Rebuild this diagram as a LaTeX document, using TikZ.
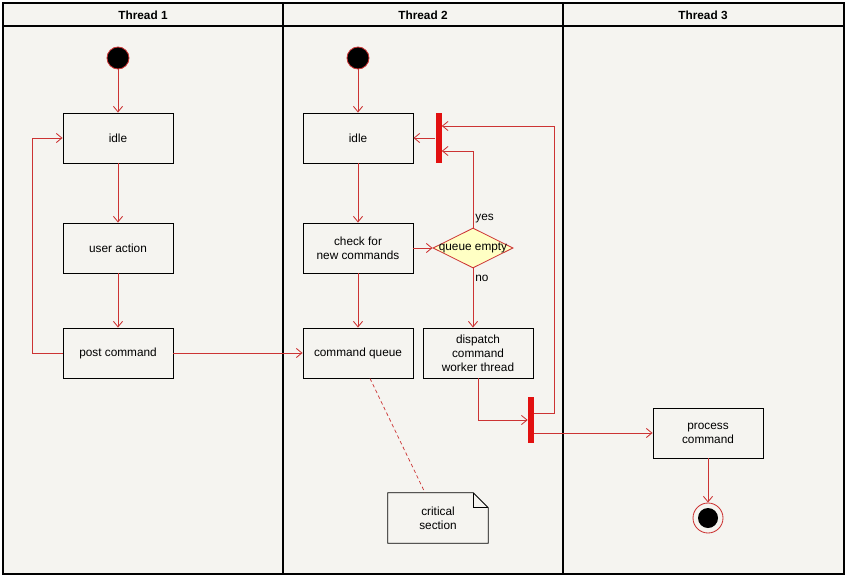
\documentclass[tikz,border=0pt]{standalone}
\usepackage{fontspec}
\setmainfont{Liberation Sans}
\usetikzlibrary{arrows.meta,calc,shapes.geometric}
\definecolor{lanebg}{RGB}{245,244,240}
\definecolor{flowred}{RGB}{204,51,51}
\definecolor{barred}{RGB}{226,16,16}
\definecolor{decyellow}{RGB}{255,255,196}

\begin{document}
\begin{tikzpicture}[x=0.025cm, y=-0.025cm,
  box/.style={draw, rectangle, fill=lanebg, minimum width=2.75cm, minimum height=1.25cm, align=center, font=\fontsize{8.4}{10}\selectfont, line width=0.6pt},
  startdot/.style={draw=flowred, fill=black, circle, minimum size=0.55cm, inner sep=0pt, line width=0.6pt},
  enddot/.style={draw=flowred, circle, minimum size=0.75cm, inner sep=0pt, line width=0.6pt, path picture={\fill[black] (path picture bounding box.center) circle (0.25cm);}},
  dec/.style={draw=flowred, fill=decyellow, diamond, minimum width=2cm, minimum height=1cm, inner sep=0pt, line width=0.6pt},
  syncbar/.style={fill=barred, rectangle, minimum width=0.15cm, inner sep=0pt},
  lbl/.style={font=\fontsize{8.4}{10}\selectfont, inner sep=1.5pt},
  title/.style={font=\bfseries\fontsize{8.4}{10}\selectfont},
  flow/.style={draw=flowred, line width=0.6pt},
  arr/.style={flow, -{Straight Barb[length=4pt, width=6.5pt]}}
]
\useasboundingbox (0,0) rectangle (847,577);
\fill[white] (0,0) rectangle (847,577);
\fill[lanebg] (3,3) rectangle (844,574);
\draw[line width=0.9pt] (3,3) rectangle (844,574);
\draw[line width=0.9pt] (3,26) -- (844,26);
\draw[line width=0.9pt] (283,3) -- (283,574);
\draw[line width=0.9pt] (563,3) -- (563,574);

\node[title] (lane1) at (143,15) {Thread 1};
\node[title] (lane2) at (423,15) {Thread 2};
\node[title] (lane3) at (703,15) {Thread 3};

\node[startdot] (start1) at (118,58) {};
\node[box] (idle1) at (118,138) {idle};
\node[box] (action1) at (118,248) {user action};
\node[box] (post1) at (118,353) {post command};

\node[startdot] (start2) at (358,58) {};
\node[box] (idle2) at (358,138) {idle};
\node[box] (check2) at (358,248) {check for\\new commands};
\node[box] (queue2) at (358,353) {command queue};
\node[dec, label={[lbl]center:queue empty}] (empty2) at (473,248) {};
\node[lbl, anchor=south west] (yes2) at ($(empty2.north)+(0,-2)$) {yes};
\node[lbl, anchor=north west] (no2) at ($(empty2.south)+(0,4)$) {no};
\node[box] (dispatch2) at (478,353) {dispatch\\command\\worker thread};
\node[syncbar, minimum height=1.25cm] (bar1) at (438.5,138) {};
\node[syncbar, minimum height=1.125cm] (bar2) at (531,420) {};
\node[rectangle, minimum width=2.5cm, minimum height=1.25cm, align=center, font=\fontsize{8.4}{10}\selectfont] (note2) at (438,518) {critical\\section};

\node[box] (process3) at (708,433) {process\\command};
\node[enddot] (end3) at (708,518) {};

\draw[line width=0.6pt] (note2.north west) -- ($(note2.north east)+(-15,0)$) -- ($(note2.north east)+(0,15)$) -- (note2.south east) -- (note2.south west) -- cycle;
\draw[line width=0.6pt] ($(note2.north east)+(-15,0)$) |- ($(note2.north east)+(0,15)$);

\draw[arr] (start1) -- (idle1);
\draw[arr] (idle1) -- (action1);
\draw[arr] (action1) -- (post1);
\draw[arr] (post1.west) -- ++(-30,0) |- (idle1.west);
\draw[arr] (post1) -- (queue2);

\draw[arr] (start2) -- (idle2);
\draw[arr] (idle2) -- (check2);
\draw[arr] (check2) -- (queue2);
\draw[arr] (check2) -- (empty2);
\draw[arr] (empty2.south) -- (empty2.south |- dispatch2.north);
\draw[arr] (empty2.north) |- ($(bar1.east)+(0,13)$);
\draw[arr] (bar1) -- (idle2);
\draw[arr] (dispatch2.south) |- (bar2.west);
\draw[arr] ($(bar2.east)+(0,-7)$) -- ++(20,0) |- ($(bar1.east)+(0,-12)$);
\draw[arr] ($(bar2.east)+(0,13)$) -- (process3.west);
\draw[arr] (process3) -- (end3);
\draw[flow, line width=0.5pt, dash pattern=on 2.5pt off 2pt] ($(queue2.south)+(12,0)$) -- ($(note2.north)+(-13,0)$);
\end{tikzpicture}
\end{document}
